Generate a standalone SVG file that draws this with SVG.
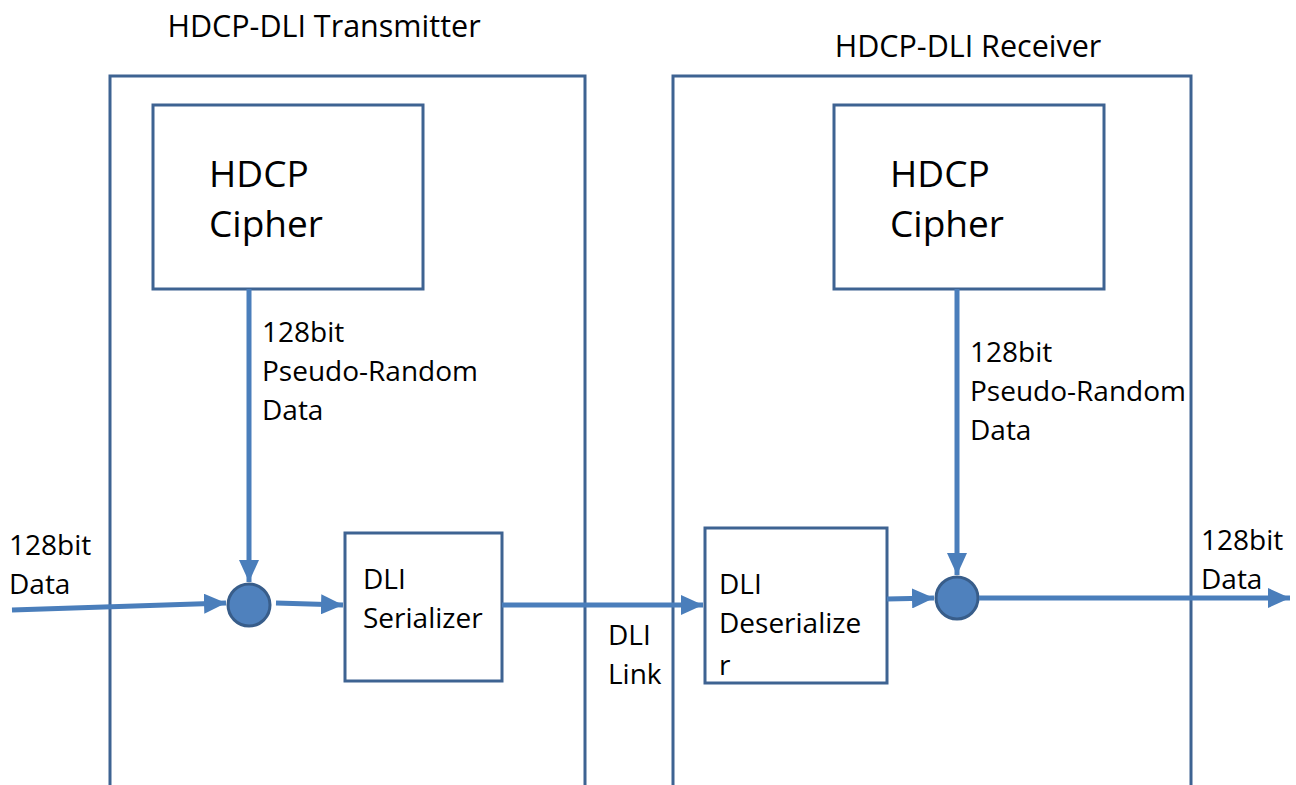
<svg xmlns="http://www.w3.org/2000/svg" width="1296" height="785" viewBox="0 0 1296 785">
<style>
.box{fill:none;stroke:#3E6392;stroke-width:3}
.wbox{fill:#fff;stroke:#3E6392;stroke-width:3}
.t{font-family:"Open Sans","Liberation Sans",sans-serif;fill:#000}
.title{font-size:30.5px}
.big{font-size:37px}
.lbl{font-size:28px}
.ln{fill:none;stroke:#4A7EBB;stroke-width:5}
.dot{fill:#4F81BD;stroke:#385D8A;stroke-width:3}
</style>
<defs>
<marker id="ah" markerUnits="userSpaceOnUse" markerWidth="24" markerHeight="20" refX="22" refY="10" orient="auto">
<path d="M0,0 L22,10 L0,20 Z" fill="#4A7EBB"/>
</marker>
</defs>
<rect width="1296" height="785" fill="#fff"/>
<g id="transmitter">
<path class="box" d="M110,787 V76 H585 V787"/>
<text class="t title" x="324" y="37" text-anchor="middle">HDCP-DLI Transmitter</text>
</g>
<g id="receiver">
<path class="box" d="M673,787 V76 H1191 V787"/>
<text class="t title" x="968" y="57" text-anchor="middle">HDCP-DLI Receiver</text>
</g>
<g id="tx-cipher">
<rect class="box" x="153" y="105" width="270" height="184"/>
<text class="t big" x="209" y="187">HDCP</text>
<text class="t big" x="209" y="237">Cipher</text>
</g>
<g id="rx-cipher">
<rect class="box" x="834" y="105" width="270" height="184"/>
<text class="t big" x="890" y="187">HDCP</text>
<text class="t big" x="890" y="237">Cipher</text>
</g>
<g id="serializer">
<rect class="wbox" x="345" y="533" width="157" height="148"/>
<text class="t lbl" x="363" y="589">DLI</text>
<text class="t lbl" x="363" y="628">Serializer</text>
</g>
<g id="deserializer">
<rect class="wbox" x="705" y="528" width="182" height="155"/>
<text class="t lbl" x="719" y="594">DLI</text>
<text class="t lbl" x="719" y="633">Deserialize</text>
<text class="t lbl" x="719" y="675">r</text>
</g>
<g id="tx-xor">
<circle class="dot" cx="249" cy="605" r="21"/>
</g>
<g id="rx-xor">
<circle class="dot" cx="957" cy="598" r="21"/>
</g>
<g id="connectors">
<path class="ln" d="M12,610 L226,603" marker-end="url(#ah)"/>
<path class="ln" d="M276,603 L343,605" marker-end="url(#ah)"/>
<path class="ln" d="M502,605 L703,605" marker-end="url(#ah)"/>
<path class="ln" d="M887,599 L934,598" marker-end="url(#ah)"/>
<path class="ln" d="M979,598 L1290,598" marker-end="url(#ah)"/>
<path class="ln" d="M249,289 L249,582" marker-end="url(#ah)"/>
<path class="ln" d="M957,289 L957,575" marker-end="url(#ah)"/>
</g>
<g id="labels">
<text class="t lbl" x="262" y="342">128bit</text>
<text class="t lbl" x="262" y="381">Pseudo-Random</text>
<text class="t lbl" x="262" y="420">Data</text>
<text class="t lbl" x="970" y="362">128bit</text>
<text class="t lbl" x="970" y="401">Pseudo-Random</text>
<text class="t lbl" x="970" y="440">Data</text>
<text class="t lbl" x="9" y="555">128bit</text>
<text class="t lbl" x="9" y="594">Data</text>
<text class="t lbl" x="1201" y="550">128bit</text>
<text class="t lbl" x="1201" y="589">Data</text>
<text class="t lbl" x="608" y="645">DLI</text>
<text class="t lbl" x="608" y="684">Link</text>
</g>
</svg>
